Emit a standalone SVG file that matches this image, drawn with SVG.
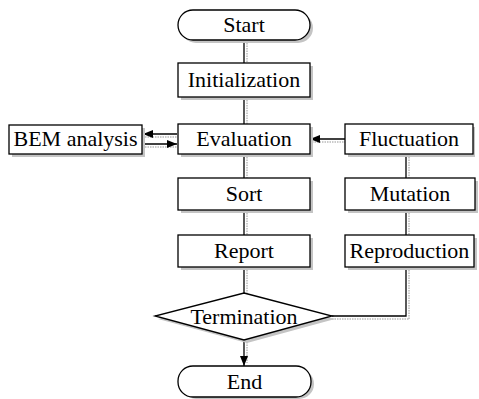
<svg xmlns="http://www.w3.org/2000/svg" width="479" height="399" viewBox="0 0 479 399">
<defs>
<style>
.box{fill:#fff;stroke:#000;stroke-width:1.3}
.sh{fill:#c4c4c4;stroke:none}
.shl{stroke:#bbb;stroke-width:1.5;stroke-dasharray:1.5 1;fill:none}
.t{font-family:"Liberation Serif","Times New Roman",serif;font-size:22px;text-anchor:middle;fill:#000}
.c{stroke:#000;stroke-width:1.3;fill:none}
</style>
<marker id="ah" viewBox="0 0 10 8" refX="10" refY="4" markerWidth="10" markerHeight="8" markerUnits="userSpaceOnUse" orient="auto">
<path d="M0,0 L10,4 L0,8 Z" fill="#000"/>
</marker>
</defs>
<rect width="479" height="399" fill="#fff"/>
<g id="connector-shadows">
<line class="shl" x1="247" y1="43" x2="247" y2="63"/>
<line class="shl" x1="247" y1="100" x2="247" y2="124"/>
<line class="shl" x1="247" y1="157" x2="247" y2="178"/>
<line class="shl" x1="247" y1="213" x2="247" y2="235"/>
<line class="shl" x1="247" y1="270" x2="247" y2="294"/>
<line class="shl" x1="247" y1="342" x2="247" y2="363"/>
<line class="shl" x1="409" y1="157" x2="409" y2="178"/>
<line class="shl" x1="409" y1="213" x2="409" y2="235"/>
<line class="shl" x1="409" y1="270" x2="409" y2="319"/>
<line class="shl" x1="332" y1="319" x2="409" y2="319"/>
<line class="shl" x1="312" y1="142" x2="345" y2="142"/>
<line class="shl" x1="145" y1="137" x2="177" y2="137"/>
<line class="shl" x1="145" y1="147" x2="177" y2="147"/>
</g>
<g id="connectors">
<line class="c" x1="244" y1="40" x2="244" y2="63"/>
<line class="c" x1="244" y1="97" x2="244" y2="124"/>
<line class="c" x1="244" y1="154" x2="244" y2="178"/>
<line class="c" x1="244" y1="210" x2="244" y2="235"/>
<line class="c" x1="244" y1="267" x2="244" y2="293"/>
<line class="c" x1="244" y1="340" x2="244" y2="366" marker-end="url(#ah)"/>
<line class="c" x1="345" y1="139" x2="310" y2="139" marker-end="url(#ah)"/>
<line class="c" x1="177" y1="134" x2="143" y2="134" marker-end="url(#ah)"/>
<line class="c" x1="143" y1="144" x2="177" y2="144" marker-end="url(#ah)"/>
<line class="c" x1="406" y1="154" x2="406" y2="178"/>
<line class="c" x1="406" y1="210" x2="406" y2="235"/>
<polyline class="c" points="406,267 406,316 332,316"/>
</g>
<g id="start">
<rect class="sh" x="181" y="13" width="132" height="30" rx="15"/>
<rect class="box" x="178" y="10" width="132" height="30" rx="15"/>
<text class="t" x="244" y="32">Start</text>
</g>
<g id="initialization">
<rect class="sh" x="181" y="66" width="132" height="34"/>
<rect class="box" x="178" y="63" width="132" height="34"/>
<text class="t" x="244" y="87">Initialization</text>
</g>
<g id="bem">
<rect class="sh" x="12" y="128" width="133" height="29"/>
<rect class="box" x="9" y="125" width="133" height="29"/>
<text class="t" x="75.5" y="146">BEM analysis</text>
</g>
<g id="evaluation">
<rect class="sh" x="181" y="127" width="132" height="30"/>
<rect class="box" x="178" y="124" width="132" height="30"/>
<text class="t" x="244" y="146">Evaluation</text>
</g>
<g id="fluctuation">
<rect class="sh" x="348" y="127" width="127" height="30"/>
<rect class="box" x="345" y="124" width="128" height="30"/>
<text class="t" x="409" y="146">Fluctuation</text>
</g>
<g id="sort">
<rect class="sh" x="181" y="181" width="132" height="32"/>
<rect class="box" x="178" y="178" width="132" height="32"/>
<text class="t" x="244" y="201">Sort</text>
</g>
<g id="mutation">
<rect class="sh" x="348" y="181" width="130" height="32"/>
<rect class="box" x="345" y="178" width="130" height="32"/>
<text class="t" x="410" y="201">Mutation</text>
</g>
<g id="report">
<rect class="sh" x="181" y="238" width="132" height="32"/>
<rect class="box" x="178" y="235" width="132" height="32"/>
<text class="t" x="244" y="258">Report</text>
</g>
<g id="reproduction">
<rect class="sh" x="348" y="238" width="129" height="32"/>
<rect class="box" x="345" y="235" width="129" height="32"/>
<text class="t" x="409.5" y="258">Reproduction</text>
</g>
<g id="termination">
<polygon class="sh" points="247,296 335,319 247,343 158,319"/>
<polygon class="box" points="244,293 332,316 244,340 155,316"/>
<text class="t" x="244" y="324">Termination</text>
</g>
<g id="end">
<rect class="sh" x="181" y="369" width="133" height="30" rx="15"/>
<rect class="box" x="178" y="366" width="133" height="31" rx="15"/>
<text class="t" x="244.5" y="389">End</text>
</g>
</svg>
